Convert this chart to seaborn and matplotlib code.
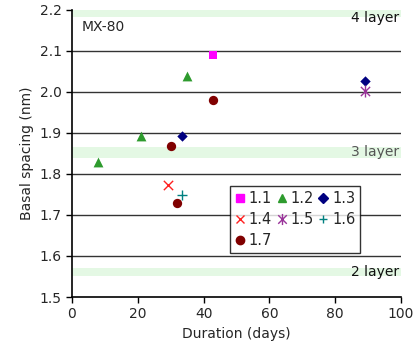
import matplotlib
matplotlib.use("Agg")
import matplotlib.pyplot as plt
import seaborn as sns
import pandas as pd
from matplotlib.path import Path
from matplotlib.lines import Line2D

series = ["1.1", "1.2", "1.3", "1.4", "1.5", "1.6", "1.7"]
x_11 = [43]; y_11 = [2.09]
x_12 = [8, 21, 35]; y_12 = [1.83, 1.893, 2.04]
x_13 = [33.4, 89]; y_13 = [1.893, 2.027]
x_14 = [29.2]; y_14 = [1.773]
x_15 = [89]; y_15 = [2.003]
x_16 = [33.4]; y_16 = [1.749]
x_17 = [30, 32, 43]; y_17 = [1.868, 1.729, 1.98]
xs = [x_11, x_12, x_13, x_14, x_15, x_16, x_17]
ys = [y_11, y_12, y_13, y_14, y_15, y_16, y_17]

bands = [(1.55, 1.57), (1.84, 1.865), (2.183, 2.2)]
band_labels = ["2 layer", "3 layer", "4 layer"]
band_label_y = [1.56, 1.853, 2.18]

star = Path([(-1, -1), (1, 1), (-1, 1), (1, -1), (0, -1.3), (0, 1.3)],
            [Path.MOVETO, Path.LINETO, Path.MOVETO, Path.LINETO, Path.MOVETO, Path.LINETO])

colors = ["#FF00FF", "#2E9B2E", "#000080", "#FF2020", "#993399", "#008080", "#800000"]
markers = ["s", "^", "D", "x", star, "+", "o"]
sizes = [30, 50, 28, 45, 75, 50, 45]
line_markers = ["x", "+"]

sns.set_style("white")
plt.rcParams["font.family"] = ["DejaVu Sans"]
fig = plt.figure(figsize=(4.16, 3.54), dpi=100)
ax = fig.add_axes([0.173, 0.161, 0.791, 0.811])

for lo, hi in bands:
    ax.axhspan(lo, hi, color="#E4F8E4", lw=0, zorder=0)
for yv in [1.6, 1.7, 1.8, 1.9, 2.0, 2.1]:
    ax.axhline(yv, color="#333333", lw=1.0, zorder=1)

def is_line(m):
    return (isinstance(m, str) and m in line_markers) or m is star

for s, xv, yv, c, m, sz in zip(series, xs, ys, colors, markers, sizes):
    df = pd.DataFrame({"x": xv, "y": yv})
    sns.scatterplot(data=df, x="x", y="y", ax=ax, color=c, marker=m, s=sz,
                    linewidth=1.0 if is_line(m) else 0,
                    edgecolor=c, zorder=3, legend=False)

hmap = {}
for s, c, m in zip(series, colors, markers):
    filled = not is_line(m)
    ms = 5 if (isinstance(m, str) and m == "D") else (8 if m is star else 6)
    hmap[s] = Line2D([], [], ls="", marker=m, color=c, markersize=ms,
                     markeredgewidth=1.0, markerfacecolor=c if filled else "none")
order = ["1.1", "1.4", "1.7", "1.2", "1.5", "1.3", "1.6"]
leg = ax.legend([hmap[o] for o in order], order, ncol=3, loc="upper left",
                bbox_to_anchor=(0.48, 0.387), borderaxespad=0, frameon=True, fancybox=False,
                fontsize=10.5, handlelength=0.7, handletextpad=0.25,
                columnspacing=0.3, borderpad=0.35, labelspacing=0.42)
leg.get_frame().set_edgecolor("black")
leg.get_frame().set_linewidth(1.0)

for lab, yv in zip(band_labels, band_label_y):
    ax.text(99.5, yv, lab, ha="right", va="center", fontsize=10,
            color="#555555" if lab == "3 layer" else "#111111", zorder=4)
ax.text(3, 2.158, "MX-80", ha="left", va="center", fontsize=10)

ax.set_xlim(0, 100)
ax.set_ylim(1.5, 2.2)
ax.set_xticks([0, 20, 40, 60, 80, 100])
ax.set_yticks([1.5, 1.6, 1.7, 1.8, 1.9, 2.0, 2.1, 2.2])
ax.set_yticklabels(["1.5", "1.6", "1.7", "1.8", "1.9", "2.0", "2.1", "2.2"])
ax.tick_params(axis="both", labelsize=10, length=4, width=1, color="black",
               direction="out", left=True, bottom=True)
ax.set_xlabel("Duration (days)", fontsize=10)
ax.set_ylabel("Basal spacing (nm)", fontsize=10)
for sp in ["top", "right"]:
    ax.spines[sp].set_visible(False)
for sp in ["left", "bottom"]:
    ax.spines[sp].set_color("black")
    ax.spines[sp].set_linewidth(1.2)

fig.savefig("out.png", dpi=100)
